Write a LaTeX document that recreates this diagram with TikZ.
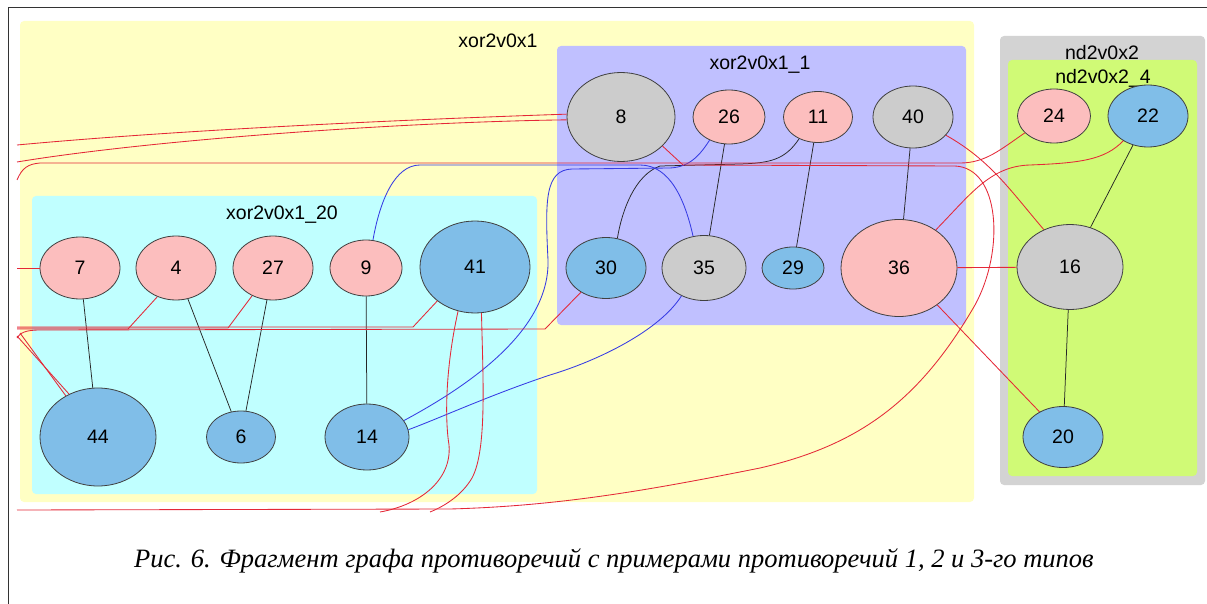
\documentclass[tikz,border=0pt]{standalone}
\usepackage{fontspec}
\setmainfont{Liberation Sans}
\newfontfamily\capfont{Liberation Serif}
\usetikzlibrary{shapes.geometric}
\definecolor{clyellow}{RGB}{255,255,196}
\definecolor{clpurple}{RGB}{192,192,255}
\definecolor{clcyan}{RGB}{192,255,255}
\definecolor{clgray}{RGB}{211,211,211}
\definecolor{clgreen}{RGB}{208,250,118}
\definecolor{vxpink}{RGB}{252,190,190}
\definecolor{vxblue}{RGB}{128,190,232}
\definecolor{vxgray}{RGB}{204,204,204}
\definecolor{edred}{RGB}{228,40,55}
\definecolor{edblue}{RGB}{55,60,228}
\begin{document}
\begin{tikzpicture}[x=1pt,y=-1pt,line width=.8pt,
  vx/.style={ellipse,draw=black!75,line width=.8pt,inner sep=0pt,font=\fontsize{19.5}{22}\selectfont},
  pk/.style={vx,fill=vxpink},
  bl/.style={vx,fill=vxblue},
  gy/.style={vx,fill=vxgray},
  cltext/.style={font=\fontsize{19.5}{22}\selectfont},
  rd/.style={draw=edred,line width=.85pt},
  bu/.style={draw=edblue,line width=.85pt},
  bk/.style={draw=black!85,line width=.75pt}]
  \useasboundingbox (0,0) rectangle (1207,604);
  \draw[line width=1.2pt,black!80] (8.5,604)--(8.5,7.5)--(1207,7.5);
  \fill[clyellow,rounded corners=4] (20,21) rectangle (974,502);
  \fill[clpurple,rounded corners=4] (557,46) rectangle (966,325);
  \fill[clcyan,rounded corners=4] (32,196) rectangle (537,494);
  \fill[clgray,rounded corners=4] (1000,36) rectangle (1205,485);
  \fill[clgreen,rounded corners=4] (1008,60) rectangle (1197,476);
  \node[cltext] (lx) at (498,41) {xor2v0x1};
  \node[cltext] (lx1) at (760,65) {xor2v0x1\_1};
  \node[cltext] (lx20) at (282,215) {xor2v0x1\_20};
  \node[cltext] (ln) at (1102,53) {nd2v0x2};
  \node[cltext] (ln4) at (1103,78) {nd2v0x2\_4};
  \node[pk,minimum width=80,minimum height=62] (n7) at (80,268) {7};
  \node[pk,minimum width=80,minimum height=64] (n4) at (176,268) {4};
  \node[pk,minimum width=80,minimum height=64] (n27) at (273,268) {27};
  \node[pk,minimum width=72,minimum height=56] (n9) at (366,268) {9};
  \node[bl,minimum width=110,minimum height=92] (n41) at (475,267) {41};
  \node[bl,minimum width=116,minimum height=98] (n44) at (98,437) {44};
  \node[bl,minimum width=69,minimum height=52] (n6) at (241,437) {6};
  \node[bl,minimum width=84,minimum height=66] (n14) at (367,437) {14};
  \node[gy,minimum width=108,minimum height=89] (n8) at (621,117) {8};
  \node[pk,minimum width=72,minimum height=54] (n26) at (729,117) {26};
  \node[pk,minimum width=69,minimum height=51] (n11) at (818,117) {11};
  \node[gy,minimum width=80,minimum height=62] (n40) at (913,117) {40};
  \node[bl,minimum width=80,minimum height=61] (n30) at (606,268) {30};
  \node[gy,minimum width=84,minimum height=65] (n35) at (704,268) {35};
  \node[bl,minimum width=62,minimum height=42] (n29) at (793,268) {29};
  \node[pk,minimum width=116,minimum height=97] (n36) at (899,268) {36};
  \node[pk,minimum width=73,minimum height=54] (n24) at (1054,116) {24};
  \node[bl,minimum width=80,minimum height=62] (n22) at (1148,116) {22};
  \node[gy,minimum width=106,minimum height=85] (n16) at (1070,267) {16};
  \node[bl,minimum width=80,minimum height=61] (n20) at (1063,437) {20};
  \coordinate (wa) at (17,145);
  \coordinate (wb) at (17,162);
  \coordinate (wc) at (17,180);
  \coordinate (w7) at (17,268);
  \coordinate (w4) at (17,329);
  \coordinate (w27) at (17,328);
  \coordinate (w41) at (17,327);
  \coordinate (w30) at (17,338);
  \coordinate (w44) at (17,336);
  \coordinate (w44b) at (20,333);
  \coordinate (w8) at (17,510);
  \coordinate (s41) at (380,512);
  \coordinate (s41b) at (430,512);
  \draw[bk] (n7)--(n44);
  \draw[bk] (n4)--(n6);
  \draw[bk] (n27)--(n6);
  \draw[bk] (n9)--(n14);
  \draw[bk] (n26)--(n35);
  \draw[bk] (n11)--(n29);
  \draw[bk] (n40)--(n36);
  \draw[bk] (n22)--(n16);
  \draw[bk] (n16)--(n20);
  \draw[bk] (n11.-131) .. controls (785,160) and (770,163) .. (740,164) -- (660,166)
    .. controls (635,175) and (622,210) .. (n30.69);
  \draw[bu] (n9.76) .. controls (380,200) and (395,165) .. (420,165) -- (640,165)
    .. controls (670,165) and (685,200) .. (n35.109);
  \draw[bu] (n26.-130) .. controls (700,155) and (690,167) .. (670,168) -- (572,169)
    .. controls (545,170) and (545,200) .. (548,260) .. controls (550,330) and (470,385) .. (n14.24);
  \draw[bu] (n35.-129) .. controls (660,330) and (600,360) .. (550,375)
    .. controls (490,395) and (440,418) .. (n14.10);
  \draw[rd] (n7)--(w7);
  \draw[rd] (wa) .. controls (200,128) and (450,118) .. (n8.177);
  \draw[rd] (wb) .. controls (150,140) and (400,122) .. (n8.183);
  \draw[rd] (wc) .. controls (22,168) and (28,164) .. (40,163) -- (960,163)
    .. controls (985,163) and (1000,150) .. (n24.-150);
  \draw[rd] (n8.-35) -- (683,165) -- (955,166) .. controls (1000,168) and (1005,250) .. (975,305)
    .. controls (920,400) and (860,445) .. (760,468) .. controls (650,490) and (560,506) .. (450,509) -- (w8);
  \draw[rd] (n40.-29) .. controls (990,160) and (1010,190) .. (n16.125);
  \draw[rd] (n36)--(n16);
  \draw[rd] (n36.-44)--(n20.133);
  \draw[rd] (n36.46) .. controls (970,195) and (990,166) .. (1030,165)
    .. controls (1080,163) and (1105,160) .. (n22.-135);
  \draw[rd] (n30.-136) -- (545,329) -- (40,330) .. controls (25,330) and (20,333) .. (w30);
  \draw[rd] (n41.-138) -- (413,327) -- (w41);
  \draw[rd] (n27.-127) -- (228,328) -- (w27);
  \draw[rd] (n4.-123) -- (128,329) -- (w4);
  \draw[rd] (n44.124)--(w44);
  \draw[rd] (n44.128)--(w44b);
  \draw[rd] (n41.-111) .. controls (445,370) and (445,420) .. (449,445)
    .. controls (452,480) and (420,505) .. (s41);
  \draw[rd] (n41.-82) .. controls (483,380) and (487,450) .. (472,478)
    .. controls (462,495) and (445,506) .. (s41b);
  \node (cap) at (614,561) {\capfont\itshape\fontsize{26.5}{30}\selectfont Рис. 6. Фрагмент графа противоречий с примерами противоречий 1, 2 и 3-го типов};
\end{tikzpicture}
\end{document}
